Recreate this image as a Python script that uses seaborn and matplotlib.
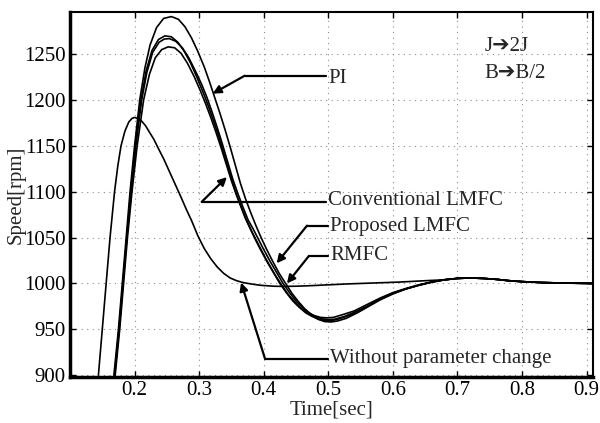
import numpy as np
import pandas as pd
import matplotlib
matplotlib.use("Agg")
import matplotlib.pyplot as plt
import seaborn as sns

# ---------------- data ----------------
pi_t = [0.168, 0.175, 0.181, 0.187, 0.193, 0.200, 0.208, 0.216, 0.224, 0.234, 0.245, 0.257,
        0.268, 0.278, 0.288, 0.298, 0.308, 0.316, 0.324, 0.332, 0.340, 0.348, 0.356, 0.364,
        0.372, 0.380, 0.388, 0.396, 0.404, 0.414, 0.424, 0.434, 0.444, 0.454, 0.464, 0.474,
        0.484, 0.494, 0.504, 0.514, 0.528, 0.545, 0.560, 0.580, 0.600, 0.620, 0.640, 0.660,
        0.680, 0.700, 0.720, 0.740, 0.760, 0.780, 0.800, 0.830, 0.860, 0.910]
pi_y = [900, 950, 1000, 1050, 1100, 1150, 1200, 1235, 1260, 1279, 1289, 1291,
        1288, 1280, 1268, 1253, 1236, 1220, 1203, 1186, 1168, 1149, 1129, 1109,
        1092, 1077, 1063, 1050, 1038, 1024, 1011, 1000, 989, 980, 972, 966,
        961, 958.5, 958, 959, 962, 968, 974, 982, 988.5, 994, 998, 1001.5,
        1004, 1005.5, 1006, 1005.5, 1004.5, 1003, 1002, 1001, 1000.5, 1000]

conv_t = [0.169, 0.176, 0.182, 0.188, 0.194, 0.201, 0.210, 0.218, 0.227, 0.237, 0.247, 0.257,
          0.267, 0.277, 0.287, 0.297, 0.307, 0.315, 0.323, 0.331, 0.339, 0.347, 0.355, 0.363,
          0.371, 0.379, 0.387, 0.395, 0.405, 0.415, 0.425, 0.435, 0.445, 0.455, 0.465, 0.475,
          0.485, 0.495, 0.505, 0.515, 0.530, 0.545, 0.560, 0.580, 0.600, 0.620, 0.640, 0.660,
          0.680, 0.700, 0.720, 0.740, 0.760, 0.780, 0.800, 0.830, 0.860, 0.910]
conv_y = [900, 950, 1000, 1050, 1100, 1150, 1200, 1232, 1254, 1266, 1270, 1269,
          1263, 1253, 1240, 1224, 1207, 1192, 1176, 1159, 1140, 1121, 1103, 1087,
          1072, 1060, 1048, 1037, 1024, 1012, 1000, 990, 981, 974, 968, 964,
          961, 959.5, 959.5, 961, 964.5, 968.5, 974.5, 982.5, 989, 994, 998, 1001.5,
          1004, 1005.5, 1006, 1005.5, 1004.5, 1003, 1002, 1001, 1000.5, 1000]

prop_t = [0.169, 0.176, 0.182, 0.188, 0.195, 0.202, 0.211, 0.219, 0.228, 0.238, 0.246, 0.254,
          0.264, 0.274, 0.284, 0.294, 0.304, 0.312, 0.320, 0.328, 0.336, 0.344, 0.352, 0.360,
          0.368, 0.376, 0.384, 0.392, 0.400, 0.410, 0.420, 0.430, 0.440, 0.450, 0.460, 0.470,
          0.480, 0.490, 0.500, 0.510, 0.525, 0.540, 0.560, 0.580, 0.600, 0.620, 0.640, 0.660,
          0.680, 0.700, 0.720, 0.740, 0.760, 0.780, 0.800, 0.830, 0.860, 0.910]
prop_y = [900, 950, 1000, 1050, 1100, 1150, 1200, 1230, 1252, 1263, 1266.5, 1267,
          1264, 1257, 1246, 1232, 1217, 1203, 1187, 1170, 1152, 1133, 1114, 1098,
          1083, 1069, 1059, 1048, 1037, 1024, 1012, 1000, 990, 981, 974, 968,
          964, 961.5, 960.5, 961, 964, 968.5, 975, 983, 989.5, 994, 998, 1001.5,
          1004, 1005.5, 1006, 1005.5, 1004.5, 1003, 1002, 1001, 1000.5, 1000]

rmfc_t = [0.170, 0.177, 0.183, 0.189, 0.196, 0.204, 0.214, 0.223, 0.232, 0.242, 0.252, 0.262,
          0.272, 0.282, 0.292, 0.302, 0.310, 0.318, 0.326, 0.334, 0.342, 0.350, 0.358, 0.366,
          0.374, 0.382, 0.390, 0.398, 0.408, 0.418, 0.428, 0.438, 0.448, 0.458, 0.468, 0.478,
          0.488, 0.498, 0.508, 0.520, 0.540, 0.560, 0.580, 0.600, 0.620, 0.640, 0.660,
          0.680, 0.700, 0.720, 0.740, 0.760, 0.780, 0.800, 0.830, 0.860, 0.910]
rmfc_y = [900, 950, 1000, 1050, 1100, 1150, 1200, 1228, 1246, 1255, 1258, 1257,
          1251, 1240, 1226, 1210, 1196, 1181, 1165, 1148, 1130, 1112, 1096, 1082,
          1068, 1056, 1045, 1034, 1021, 1009, 998, 988, 980, 973, 968, 965,
          963, 962.5, 963, 965.5, 970, 977, 984, 990, 994.5, 998.5, 1001.5,
          1004, 1005.5, 1006, 1005.5, 1004.5, 1003, 1002, 1001, 1000.5, 1000]

wo_t = [0.144, 0.150, 0.156, 0.162, 0.169, 0.174, 0.179, 0.185, 0.191, 0.196, 0.200, 0.205,
        0.211, 0.217, 0.223, 0.230, 0.237, 0.245, 0.254, 0.263, 0.272, 0.280, 0.288, 0.298,
        0.308, 0.318, 0.328, 0.338, 0.348, 0.358, 0.368, 0.380, 0.395, 0.415, 0.430, 0.450,
        0.470, 0.500, 0.530, 0.570, 0.610, 0.650, 0.680, 0.700, 0.720, 0.740, 0.760, 0.780,
        0.800, 0.830, 0.860, 0.910]
wo_y = [900, 950, 1000, 1050, 1100, 1128, 1150, 1166, 1176, 1180, 1181, 1180,
        1177, 1172, 1165, 1157, 1147, 1136, 1122, 1108, 1094, 1081, 1069, 1052,
        1038, 1027, 1018, 1011, 1006, 1003, 1001, 999.5, 998, 997, 996.8, 997,
        997.5, 998.5, 999.5, 1000.5, 1001.5, 1003, 1004, 1005.5, 1006, 1005.5, 1004.5, 1003,
        1002, 1001, 1000.5, 1000]

series_names = ["PI", "Conventional LMFC", "Proposed LMFC", "RMFC", "Without parameter change"]
x_ticks = [0.2, 0.3, 0.4, 0.5, 0.6, 0.7, 0.8, 0.9]
y_ticks = [900, 950, 1000, 1050, 1100, 1150, 1200, 1250]

frames = []
for name, t, y in zip(series_names,
                      [pi_t, conv_t, prop_t, rmfc_t, wo_t],
                      [pi_y, conv_y, prop_y, rmfc_y, wo_y]):
    frames.append(pd.DataFrame({"series": name, "time": t, "speed": y}))
df = pd.concat(frames, ignore_index=True)

# ---------------- style ----------------
sns.set_style("ticks")
serif = ["Liberation Serif", "DejaVu Sans"]
plt.rcParams["font.family"] = serif
plt.rcParams["xtick.direction"] = "in"
plt.rcParams["ytick.direction"] = "in"

fig = plt.figure(figsize=(6.0, 4.23), dpi=100)
ax = fig.add_axes([70 / 600, 1 - 377 / 423, (593 - 70) / 600, (377 - 12) / 423])

sns.lineplot(data=df, x="time", y="speed", units="series", estimator=None,
             sort=False, color="black", lw=1.2, ax=ax, legend=False)

ax.set_xlim(0.1, 0.91)
ax.set_ylim(898, 1296)
ax.set_xticks(x_ticks)
ax.set_yticks(y_ticks)
ax.set_xticklabels([f"{v:.1f}" for v in x_ticks])
ax.set_yticklabels([str(v) for v in y_ticks])
ax.tick_params(axis="both", labelsize=15, length=4, width=1, colors="black",
               top=True, right=True, pad=3)
ax.grid(True, linestyle=(0, (1, 4)), color="0.55", linewidth=0.8)
for s in ax.spines.values():
    s.set_visible(True)
    s.set_linewidth(1.5)
    s.set_color("black")
ax.spines["left"].set_linewidth(2.5)
ax.spines["bottom"].set_linewidth(2.5)

ax.set_xlabel("Time[sec]", fontsize=15, labelpad=0)
ax.set_ylabel("Speed[rpm]", fontsize=15, labelpad=-1)

# ---------------- annotations ----------------
def callout(text, tip, elbow, text_x, text_y=None):
    ty = elbow[1] if text_y is None else text_y
    ax.plot([elbow[0], text_x - 0.004], [elbow[1], elbow[1]], color="black", lw=1.6)
    ax.annotate("", xy=tip, xytext=elbow,
                arrowprops=dict(arrowstyle="-|>", color="black", lw=1.6,
                                mutation_scale=12, shrinkA=0, shrinkB=0))
    ax.text(text_x, ty, text, fontsize=15, va="center", ha="left", family=serif)

callout("PI", (0.321, 1207), (0.3705, 1226.5), 0.500, 1224)
callout("Conventional LMFC", (0.343, 1116), (0.304, 1089), 0.500, 1091)
callout("Proposed LMFC", (0.420, 1022), (0.467, 1063), 0.503, 1062)
callout("RMFC", (0.436, 1000), (0.470, 1030), 0.503, 1030)
callout("Without parameter change", (0.365, 1001), (0.402, 918), 0.503, 918)

ax.text(0.7425, 1258, "J\u27942J", fontsize=15, ha="left", va="center", family=serif)
ax.text(0.7425, 1229, "B\u2794B/2", fontsize=15, ha="left", va="center", family=serif)

fig.savefig("out.png", dpi=100)
